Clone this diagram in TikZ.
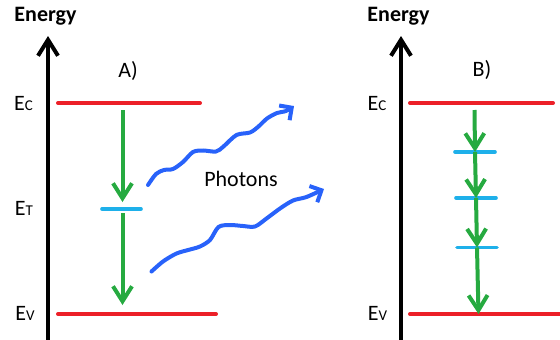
\documentclass[tikz,border=0pt]{standalone}
\usepackage{fontspec}
\setmainfont{Carlito}
\usetikzlibrary{arrows.meta, positioning}
\definecolor{bandred}{RGB}{236,32,40}
\definecolor{hopgreen}{RGB}{38,170,64}
\definecolor{trapblue}{RGB}{30,176,234}
\definecolor{photonblue}{RGB}{40,98,250}
\newcommand{\lvl}[1]{E{\fontsize{15}{15}\selectfont #1}}

\begin{document}
\begin{tikzpicture}[x=1pt, y=-1pt,
every node/.style={font=\fontsize{22}{24}\selectfont, inner sep=0pt},
axis/.style={-{Straight Barb[length=16pt, width=20pt]}, line width=4pt, black},
band/.style={bandred, line width=4pt, line cap=round},
trap/.style={trapblue, line width=3.6pt, line cap=round},
hop/.style={-{Straight Barb[length=15pt, width=19pt]}, hopgreen, line width=4pt},
photon/.style={-{Straight Barb[length=9pt, width=18pt]}, photonblue, line width=4pt, line cap=round}
]
\useasboundingbox (0,0) rectangle (560,340);
% Energy axes
\coordinate (axA) at (48,345);
\coordinate (axAtop) at (48,36);
\coordinate (axB) at (401,345);
\coordinate (axBtop) at (401,36);
\draw[axis] (axA) -- (axAtop);
\draw[axis] (axB) -- (axBtop);
\node[font=\fontsize{22}{24}\selectfont\bfseries] (enA) at (45.5,16) {Energy};
\node[font=\fontsize{22}{24}\selectfont\bfseries] (enB) at (398.5,16) {Energy};

% A) single trap level
\node (labA) at (128,71) {A)};
\coordinate (ecA1) at (58,103);
\coordinate (ecA2) at (200,103);
\coordinate (evA1) at (58,314);
\coordinate (evA2) at (216,314);
\coordinate (etA1) at (102,209);
\coordinate (etA2) at (141,209);
\draw[band] (ecA1) -- (ecA2);
\draw[band] (evA1) -- (evA2);
\draw[trap] (etA1) -- (etA2);
\node (ecAl) at (23.5,103) {\lvl{C}};
\node (etAl) at (24,208) {\lvl{T}};
\node (evAl) at (25,313) {\lvl{V}};
\coordinate (hA0) at (122.5,110);
\coordinate (hA1) at (122.5,202);
\coordinate (hA2) at (122.5,213);
\coordinate (hA3) at (122.5,305);
\draw[hop] (hA0) -- (hA1);
\draw[hop] (hA2) -- (hA3);

% Photons
\draw[photon] plot[smooth] coordinates {(148,185) (156,174) (164,170) (173,169) (183,162) (193,152)
  (203,150.5) (216,151.5) (223.5,146.5) (236.5,135) (250,132.5) (258.5,126.5) (267,118.5)
  (277,113) (286,111) (294,106)};
\draw[photon] plot[smooth] coordinates {(151.5,271.5) (163,261.5) (176.5,253.5) (190,249.5) (200,246.5)
  (210,240) (218.5,227) (230,225) (243,226) (255,226.5) (266.5,218.5) (280,208.5)
  (293,200.5) (306.5,197) (324,189)};
\node (ph) at (241,179) {Photons};

% B) several trap levels
\node (labB) at (482,70) {B)};
\coordinate (ecB1) at (410,103);
\coordinate (ecB2) at (553,103);
\coordinate (evB1) at (410,314);
\coordinate (evB2) at (565,314);
\draw[band] (ecB1) -- (ecB2);
\draw[band] (evB1) -- (evB2);
\coordinate (t1a) at (455,152);
\coordinate (t1b) at (495,152);
\coordinate (t2a) at (456,198);
\coordinate (t2b) at (496,198);
\coordinate (t3a) at (457,247.5);
\coordinate (t3b) at (497,247.5);
\draw[trap] (t1a) -- (t1b);
\draw[trap] (t2a) -- (t2b);
\draw[trap] (t3a) -- (t3b);
\node (ecBl) at (377,103) {\lvl{C}};
\node (evBl) at (377.5,313) {\lvl{V}};
\coordinate (hB0) at (474.5,110);
\coordinate (hB1) at (475,152);
\coordinate (hB2) at (476,198);
\coordinate (hB3) at (477,247.5);
\coordinate (hB4) at (478.5,314);
\draw[hop] (hB0) -- (hB1);
\draw[hop] (hB1) -- (hB2);
\draw[hop] (hB2) -- (hB3);
\draw[hop] (hB3) -- (hB4);
\end{tikzpicture}
\end{document}
